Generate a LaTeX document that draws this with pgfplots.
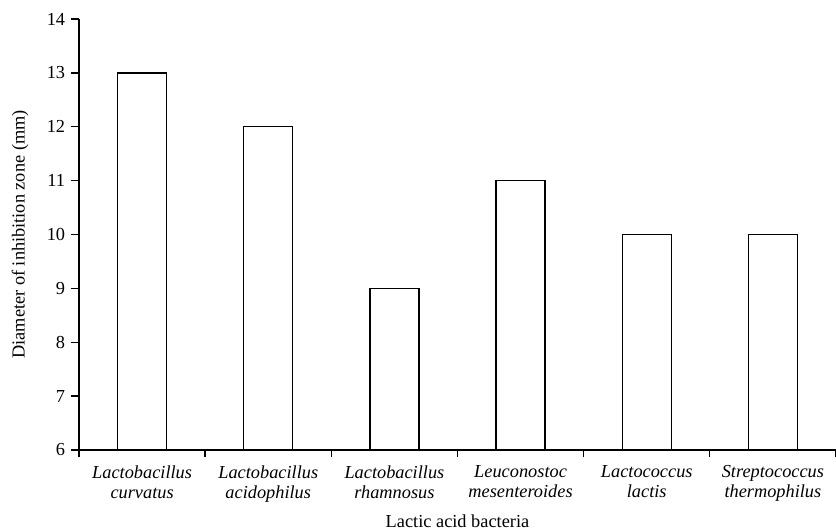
\documentclass[border=0pt]{standalone}
\usepackage{fontspec}
\setmainfont{Liberation Serif}
\usepackage{pgfplots}
\pgfplotsset{compat=1.18}
\begin{document}
\begin{tikzpicture}
\begin{axis}[
  scale only axis,
  width=454.2pt, height=258.6pt,
  at={(0,0)}, anchor=south west,
  xmin=-0.5, xmax=5.5,
  ymin=6, ymax=14,
  ytick={6,7,...,14},
  xtick={0,1,2,3,4,5},
  xticklabels={{Lactobacillus\\curvatus},{Lactobacillus\\acidophilus},{Lactobacillus\\rhamnosus},{Leuconostoc\\mesenteroides},{Lactococcus\\lactis},{Streptococcus\\thermophilus}},
  minor xtick={-0.5,0.5,...,5.5},
  axis x line*=bottom, axis y line*=left,
  axis line style={-, line width=0.8pt},
  tick align=outside,
  major x tick style={draw=none},
  minor tick length=4.2pt,
  major tick length=4.8pt,
  every tick/.style={black, line width=0.8pt},
  /pgf/number format/assume math mode=true,
  tick label style={font=\fontsize{11}{12}\selectfont},
  xticklabel style={align=center, font=\fontsize{11}{12}\selectfont\itshape, yshift=-1pt},
  label style={font=\fontsize{11}{13.2}\selectfont},
  xlabel={Lactic acid bacteria},
  ylabel={Diameter of inhibition zone (mm)},
  xlabel style={at={(axis description cs:0.5,0)}, anchor=base, yshift=-46.4pt},
  ylabel style={at={(axis description cs:-0.0779,0.5)}, anchor=center},
  ybar, bar width=29.4pt,
  clip=false,
]
\addplot[fill=white, draw=black, line width=0.8pt] coordinates {(0,13) (1,12) (2,9) (3,11) (4,10) (5,10)};
\end{axis}
\pgfresetboundingbox
\path (-47.4pt,-48.6pt) rectangle (454.2pt,270pt);
\end{tikzpicture}
\end{document}
